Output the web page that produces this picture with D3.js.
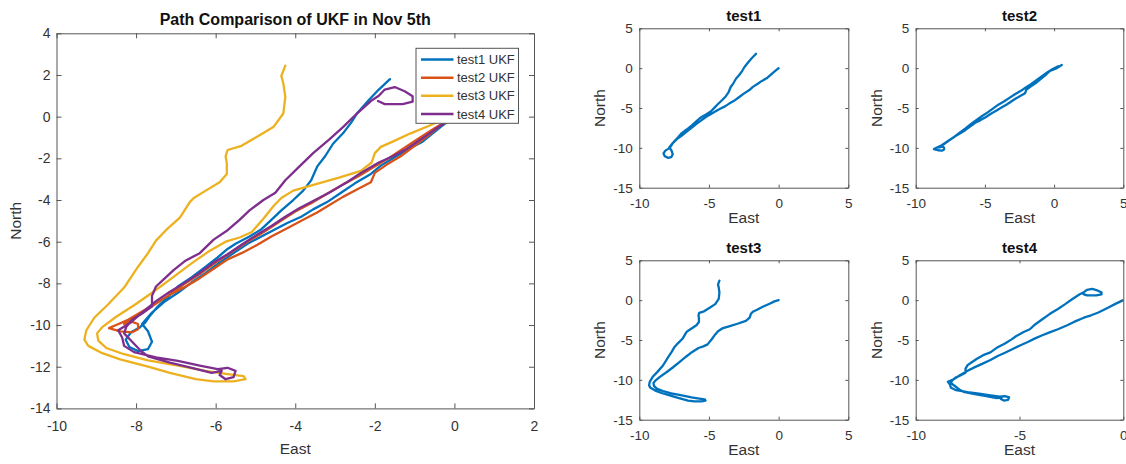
<!DOCTYPE html>
<html>
<head>
<meta charset="utf-8">
<script src="https://cdn.jsdelivr.net/npm/d3@7"></script>
<style>
  body { margin: 0; background: #fff; }
  svg { display: block; }
</style>
</head>
<body>
<svg id="chart" width="1126" height="464"></svg>
<script>
// East/North positions (m) of each UKF run, in drawing order
const test1Path = [
  [0,0],[-0.35,-0.5],[-0.8,-1.2],[-1.2,-1.6],[-1.5,-1.95],[-1.85,-2.35],[-2.1,-2.75],[-2.5,-3.2],
  [-2.85,-3.65],[-3.2,-4.1],[-3.55,-4.45],[-3.85,-4.8],[-4.2,-5.1],[-4.55,-5.45],[-4.85,-5.75],
  [-5.2,-6.1],[-5.55,-6.55],[-5.9,-7.0],[-6.25,-7.5],[-6.6,-7.95],[-6.95,-8.45],[-7.3,-8.9],
  [-7.6,-9.4],[-7.85,-9.95],[-7.7,-10.3],[-7.6,-10.8],[-7.7,-11.15],[-7.95,-11.25],[-8.17,-11.05],
  [-8.26,-10.7],[-8.13,-10.35],[-7.9,-10.1],[-7.78,-9.9],[-7.65,-9.55],[-7.45,-9.1],[-7.2,-8.65],
  [-6.95,-8.15],[-6.6,-7.7],[-6.25,-7.2],[-5.95,-6.75],[-5.7,-6.35],[-5.5,-6.1],[-5.15,-5.75],
  [-4.85,-5.4],[-4.6,-4.95],[-4.35,-4.5],[-4.05,-4.0],[-3.8,-3.55],[-3.6,-3.05],[-3.45,-2.4],
  [-3.25,-1.9],[-3.05,-1.3],[-2.8,-0.8],[-2.6,-0.3],[-2.45,0.15],[-2.15,0.8],[-1.9,1.3],[-1.62,1.8]
];
const test2Path = [
  [0.55,0.4],[0.2,0.0],[-0.3,-0.35],[-0.65,-0.9],[-1.0,-1.4],[-1.35,-1.9],[-1.7,-2.3],[-2.0,-2.7],
  [-2.1,-3.15],[-2.45,-3.5],[-2.8,-3.85],[-3.15,-4.25],[-3.45,-4.6],[-3.8,-4.95],[-4.25,-5.4],
  [-4.6,-5.75],[-4.95,-6.15],[-5.35,-6.55],[-5.7,-6.85],[-6.05,-7.3],[-6.4,-7.75],[-6.75,-8.15],
  [-7.15,-8.55],[-7.5,-8.95],[-7.85,-9.35],[-8.2,-9.75],[-8.5,-10.0],[-8.68,-10.15],
  [-8.4,-10.3],[-8.1,-10.35],[-7.95,-10.2],[-7.95,-9.95],[-8.1,-9.85],[-8.3,-9.95],
  [-8.0,-9.6],[-7.6,-9.1],[-7.2,-8.6],[-6.8,-8.05],[-6.4,-7.55],[-6.0,-7.0],[-5.6,-6.5],
  [-5.2,-6.0],[-4.8,-5.55],[-4.4,-5.05],[-4.0,-4.55],[-3.6,-4.15],[-3.2,-3.7],[-2.8,-3.25],
  [-2.4,-2.85],[-2.1,-2.5],[-1.7,-2.05],[-1.3,-1.55],[-0.9,-1.05],[-0.5,-0.55],[-0.1,-0.1],[0.3,0.25]
];
const test3Path = [
  [0,0],[-0.3,-0.15],[-0.65,-0.45],[-1.1,-0.8],[-1.55,-1.2],[-1.85,-1.45],[-2.0,-1.75],[-2.08,-2.2],
  [-2.35,-2.6],[-2.9,-2.93],[-3.5,-3.25],[-4.05,-3.55],[-4.35,-3.9],[-4.55,-4.3],[-4.8,-4.9],
  [-5.1,-5.55],[-5.4,-5.8],[-5.75,-6.0],[-6.2,-6.5],[-6.65,-7.1],[-7.1,-7.75],[-7.6,-8.45],
  [-8.05,-9.05],[-8.5,-9.6],[-8.85,-10.1],[-8.98,-10.4],[-8.95,-10.75],[-8.75,-11.1],[-8.3,-11.4],
  [-7.7,-11.7],[-6.95,-11.95],[-6.25,-12.2],[-5.7,-12.35],[-5.3,-12.45],[-5.25,-12.6],[-5.55,-12.7],
  [-6.05,-12.7],[-6.5,-12.6],[-7.15,-12.3],[-7.7,-12.0],[-8.4,-11.65],[-8.85,-11.35],[-9.2,-11.0],
  [-9.3,-10.7],[-9.25,-10.25],[-9.05,-9.65],[-8.7,-9.0],[-8.3,-8.2],[-7.95,-7.2],[-7.7,-6.55],
  [-7.5,-5.95],[-7.25,-5.45],[-6.9,-4.85],[-6.65,-4.1],[-6.55,-3.9],[-6.25,-3.55],[-5.9,-3.15],
  [-5.72,-2.75],[-5.72,-2.25],[-5.75,-1.9],[-5.7,-1.6],[-5.35,-1.4],[-4.95,-0.95],[-4.55,-0.5],
  [-4.3,0.15],[-4.25,0.95],[-4.3,1.6],[-4.35,1.95],[-4.25,2.45]
];
const test4Path = [
  [0,0],[-0.38,-0.47],[-0.74,-0.95],[-1.2,-1.55],[-1.55,-1.9],[-1.9,-2.2],[-2.35,-2.7],[-2.7,-3.15],
  [-3.15,-3.65],[-3.55,-4.05],[-3.9,-4.4],[-4.25,-4.8],[-4.6,-5.25],[-4.95,-5.65],[-5.35,-6.15],
  [-5.7,-6.6],[-6.05,-7.0],[-6.4,-7.5],[-6.8,-8.0],[-7.15,-8.4],[-7.5,-8.85],[-7.85,-9.4],
  [-8.15,-9.9],[-8.45,-10.25],
  [-8.35,-10.6],[-8.3,-11.0],[-8.05,-11.3],[-7.5,-11.55],[-6.95,-11.72],[-6.4,-11.95],[-5.95,-12.12],
  [-5.7,-12.05],[-5.5,-12.2],[-5.55,-12.5],[-5.75,-12.6],[-5.9,-12.4],[-5.85,-12.2],[-6.1,-12.3],
  [-6.6,-12.05],[-7.15,-11.8],[-7.7,-11.5],[-7.9,-11.2],[-8.1,-10.8],[-8.3,-10.4],
  [-8.25,-10.1],[-8.1,-9.75],[-7.85,-9.45],[-7.6,-9.1],[-7.6,-8.6],[-7.5,-8.15],[-7.3,-7.8],
  [-7.05,-7.35],[-6.75,-6.9],[-6.4,-6.55],[-6.05,-5.9],[-5.7,-5.45],[-5.4,-4.95],[-5.15,-4.5],
  [-4.8,-4.0],[-4.5,-3.65],[-4.25,-3.05],[-3.9,-2.4],[-3.55,-1.75],[-3.15,-1.1],[-2.8,-0.5],
  [-2.45,0.15],[-2.1,0.75],[-1.9,1.0],[-1.75,1.3],[-1.5,1.42],[-1.25,1.22],[-1.05,0.98],
  [-1.05,0.72],[-1.3,0.6],[-1.75,0.6],[-1.92,0.75]
];

const seriesNames = ["test1 UKF", "test2 UKF", "test3 UKF", "test4 UKF"];
const seriesColors = ["#0072BD", "#D95319", "#EDB120", "#7E2F8E"];
const subTitles = ["test1", "test2", "test3", "test4"];

const mainTitle = "Path Comparison of UKF in Nov 5th";
const mainXTicks = [-10, -8, -6, -4, -2, 0, 2];
const mainYTicks = [4, 2, 0, -2, -4, -6, -8, -10, -12, -14];
const subXTicks = [-10, -5, 0, 5];
const subXTicksNarrow = [-10, -5, 0];
const subYTicks = [5, 0, -5, -10, -15];

const paths = [test1Path, test2Path, test3Path, test4Path];

const FONT = '"Liberation Sans", Arial, Helvetica, sans-serif';
const INK = "#333333";
const FRAME = "#555555";
const svg = d3.select("#chart");
const defs = svg.append("defs");

function drawPanel(p) {
  const g = svg.append("g");
  const x = d3.scaleLinear().domain(p.xDomain).range([p.left, p.right]);
  const y = d3.scaleLinear().domain(p.yDomain).range([p.bottom, p.top]);

  defs.append("clipPath").attr("id", "clip-" + p.id)
    .append("rect")
    .attr("x", p.left).attr("y", p.top)
    .attr("width", p.right - p.left).attr("height", p.bottom - p.top);

  const line = d3.line().x(d => x(d[0])).y(d => y(d[1]));
  const plot = g.append("g").attr("clip-path", `url(#clip-${p.id})`);
  p.series.forEach(s => {
    plot.append("path").datum(s.data)
      .attr("d", line)
      .attr("fill", "none")
      .attr("stroke", s.color)
      .attr("stroke-width", p.lineWidth)
      .attr("stroke-linejoin", "round")
      .attr("stroke-linecap", "round");
  });

  const fmt = d => String(d);
  g.append("g").attr("transform", `translate(0,${p.bottom})`)
    .call(d3.axisBottom(x).tickValues(p.xTicks).tickSize(-p.tick).tickSizeOuter(0).tickPadding(p.xPad).tickFormat(fmt));
  g.append("g").attr("transform", `translate(0,${p.top})`)
    .call(d3.axisTop(x).tickValues(p.xTicks).tickSize(-p.tick).tickSizeOuter(0).tickFormat(""));
  g.append("g").attr("transform", `translate(${p.left},0)`)
    .call(d3.axisLeft(y).tickValues(p.yTicks).tickSize(-p.tick).tickSizeOuter(0).tickPadding(p.yPad).tickFormat(fmt));
  g.append("g").attr("transform", `translate(${p.right},0)`)
    .call(d3.axisRight(y).tickValues(p.yTicks).tickSize(-p.tick).tickSizeOuter(0).tickFormat(""));

  g.selectAll(".domain").attr("stroke", FRAME).attr("stroke-width", 1);
  g.selectAll(".tick line").attr("stroke", FRAME).attr("stroke-width", 1);
  g.selectAll(".tick text")
    .attr("font-family", FONT).attr("font-size", p.tickFont).attr("fill", INK);

  const cx = (p.left + p.right) / 2;
  const cy = (p.top + p.bottom) / 2;
  g.append("text").attr("x", cx).attr("y", p.titleY)
    .attr("text-anchor", "middle").attr("font-family", FONT)
    .attr("font-weight", "bold").attr("font-size", p.titleFont).attr("fill", "#111")
    .text(p.title);
  g.append("text").attr("x", cx).attr("y", p.xLabelY)
    .attr("text-anchor", "middle").attr("font-family", FONT)
    .attr("font-size", p.labelFont).attr("fill", INK)
    .text("East");
  g.append("text")
    .attr("transform", `translate(${p.yLabelX},${cy}) rotate(-90)`)
    .attr("text-anchor", "middle").attr("font-family", FONT)
    .attr("font-size", p.labelFont).attr("fill", INK)
    .text("North");
  return { x, y, g };
}

// Overview with all four runs
const main = drawPanel({
  id: "main", left: 56.5, right: 534, top: 33.3, bottom: 408.4,
  xDomain: [-10, 2], yDomain: [-14, 4],
  xTicks: mainXTicks, yTicks: mainYTicks, tick: 5,
  xPad: 13, yPad: 6, tickFont: 14, labelFont: 15.5,
  title: mainTitle, titleY: 25, titleFont: 16, xLabelY: 454, yLabelX: 21,
  lineWidth: 2.3,
  series: paths.map((d, i) => ({ data: d, color: seriesColors[i] }))
});

// Legend
const legend = main.g.append("g");
const lg = { left: 416, right: 518.5, top: 48.3, bottom: 123.3 };
legend.append("rect")
  .attr("x", lg.left).attr("y", lg.top)
  .attr("width", lg.right - lg.left).attr("height", lg.bottom - lg.top)
  .attr("fill", "#fff").attr("stroke", FRAME).attr("stroke-width", 1);
const rowY = d3.scalePoint().domain(seriesNames).range([59.5, 114]);
seriesNames.forEach((name, i) => {
  const yy = rowY(name);
  legend.append("line")
    .attr("x1", 421).attr("x2", 453.5).attr("y1", yy).attr("y2", yy)
    .attr("stroke", seriesColors[i]).attr("stroke-width", 2.5);
  legend.append("text")
    .attr("x", 457).attr("y", yy).attr("dy", "0.35em")
    .attr("font-family", FONT).attr("font-size", 13).attr("fill", INK)
    .text(name);
});

// One panel per run
const subBoxes = [
  { left: 639.3, right: 848.3, top: 28.3, bottom: 187.7 },
  { left: 915.7, right: 1123.3, top: 28.3, bottom: 187.7 },
  { left: 639.3, right: 848.3, top: 260.3, bottom: 419.7 },
  { left: 915.7, right: 1123.3, top: 260.3, bottom: 419.7 }
];
subBoxes.forEach((b, i) => {
  const narrow = i === 3;
  drawPanel(Object.assign({
    id: "sub" + i,
    xDomain: narrow ? [-10, 0] : [-10, 5], yDomain: [-15, 5],
    xTicks: narrow ? subXTicksNarrow : subXTicks, yTicks: subYTicks, tick: 3,
    xPad: 10.5, yPad: 6.5, tickFont: 13.5, labelFont: 15.5,
    title: subTitles[i], titleY: b.top - 7.5, titleFont: 15,
    xLabelY: b.bottom + 35, yLabelX: b.left - 34,
    lineWidth: 2.3,
    series: [{ data: paths[i], color: seriesColors[0] }]
  }, b));
});
</script>
</body>
</html>
